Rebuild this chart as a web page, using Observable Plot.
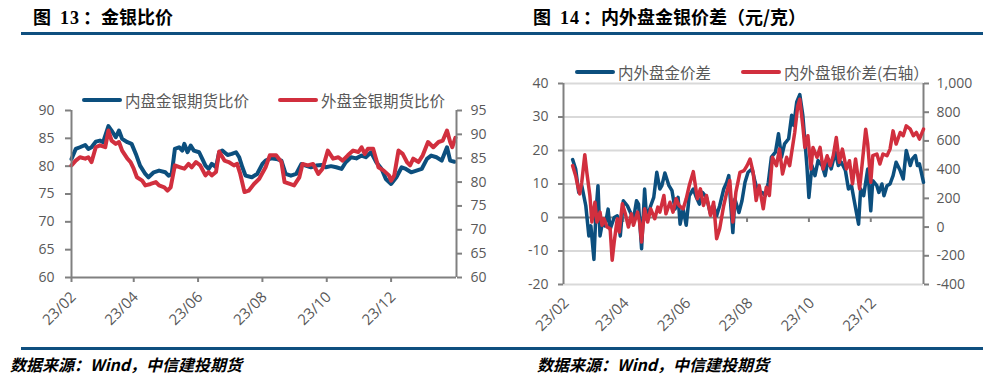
<!DOCTYPE html>
<html><head><meta charset="utf-8">
<script src="https://cdn.jsdelivr.net/npm/d3@7"></script>
<script src="https://cdn.jsdelivr.net/npm/@observablehq/plot@0.6"></script>
<style>
body{margin:0;background:#fff;}
#page{position:relative;width:998px;height:384px;overflow:hidden;font-family:"Noto Sans CJK SC",sans-serif;background:#fff;}
.abs{position:absolute;}
.title{font-weight:bold;font-size:18px;line-height:20px;color:#000;white-space:nowrap;}
.num{font-family:"Liberation Serif",serif;font-weight:bold;letter-spacing:1px;}
.rule{background:#0f4f7f;height:3px;}
.legend{font-size:15.5px;color:#595959;line-height:18px;height:18px;white-space:nowrap;display:flex;align-items:center;}
.sw{display:inline-block;width:40px;height:4px;border-radius:2px;margin-right:3px;}
.src{font-style:italic;font-weight:bold;font-size:16px;line-height:20px;color:#000;white-space:nowrap;}
</style></head>
<body><div id="page">
<div class="abs title" style="left:33px;top:6px;">图<span class="num" style="margin-left:9px;">13</span><span style="margin-left:3px;">：金银比价</span></div>
<div class="abs title" style="left:533px;top:6px;">图<span class="num" style="margin-left:9px;">14</span><span style="margin-left:3px;">：内外盘金银价差（元/克）</span></div>
<div class="abs rule" style="left:21px;top:32px;width:962px;"></div>
<div id="leftChart" class="abs" style="left:0;top:40px;"></div>
<div id="rightChart" class="abs" style="left:500px;top:40px;"></div>
<div class="abs legend" style="left:82px;top:91px;"><span class="sw" style="background:#0c4f7e"></span>内盘金银期货比价</div>
<div class="abs legend" style="left:278px;top:91px;"><span class="sw" style="background:#d12f3e"></span>外盘金银期货比价</div>
<div class="abs legend" style="left:575px;top:63px;"><span class="sw" style="background:#0c4f7e"></span>内外盘金价差</div>
<div class="abs legend" style="left:741px;top:63px;"><span class="sw" style="background:#d12f3e"></span>内外盘银价差(右轴）</div>
<div class="abs rule" style="left:21px;top:347px;width:962px;"></div>
<div class="abs src" style="left:10px;top:354px;">数据来源：Wind，中信建投期货</div>
<div class="abs src" style="left:537px;top:354px;">数据来源：Wind，中信建投期货</div>
</div>
<script>
// ---------- data ----------
const innerRatioDates = ["2023-02-01","2023-02-05","2023-02-09","2023-02-14","2023-02-17","2023-02-20","2023-02-24","2023-02-28","2023-03-03","2023-03-08","2023-03-11","2023-03-15","2023-03-18","2023-03-21","2023-03-26","2023-03-30","2023-04-03","2023-04-07","2023-04-12","2023-04-15","2023-04-20","2023-04-25","2023-05-01","2023-05-04","2023-05-07","2023-05-10","2023-05-14","2023-05-17","2023-05-19","2023-05-22","2023-05-25","2023-05-28","2023-06-02","2023-06-05","2023-06-08","2023-06-11","2023-06-14","2023-06-18","2023-06-21","2023-06-24","2023-06-29","2023-07-03","2023-07-07","2023-07-10","2023-07-13","2023-07-16","2023-07-22","2023-07-27","2023-08-01","2023-08-04","2023-08-09","2023-08-14","2023-08-19","2023-08-23","2023-08-28","2023-09-02","2023-09-07","2023-09-11","2023-09-16","2023-09-21","2023-09-26","2023-09-30","2023-10-05","2023-10-10","2023-10-15","2023-10-19","2023-10-24","2023-10-29","2023-11-03","2023-11-07","2023-11-12","2023-11-17","2023-11-22","2023-11-26","2023-12-01","2023-12-06","2023-12-11","2023-12-15","2023-12-20","2023-12-25","2023-12-30","2024-01-04","2024-01-08","2024-01-13","2024-01-18","2024-01-23","2024-01-26","2024-01-30"];
const innerRatio = [81.3,83.1,83.4,83.8,83.1,83.4,84.4,84.6,84.3,87.2,86.4,85.2,86.4,84.9,84.3,84.0,82.2,80.1,78.6,78.0,78.9,79.2,78.9,78.3,78.6,83.1,83.4,82.8,84.0,82.5,83.7,82.8,82.5,81.3,80.1,79.5,80.4,79.8,82.5,82.8,82.0,82.2,82.5,81.6,79.8,78.3,78.0,78.6,80.4,81.0,81.4,81.3,81.0,78.6,78.3,78.6,80.4,80.1,79.8,80.1,80.2,79.8,80.0,79.8,79.5,80.7,81.6,81.4,81.9,81.6,82.5,80.7,79.5,77.7,76.8,78.0,79.8,79.5,78.9,79.2,79.5,81.3,81.9,81.6,81.0,83.4,81.0,80.8];

const outerRatioDates = ["2023-02-01","2023-02-05","2023-02-09","2023-02-14","2023-02-17","2023-02-20","2023-02-24","2023-02-28","2023-03-05","2023-03-08","2023-03-11","2023-03-15","2023-03-18","2023-03-21","2023-03-26","2023-03-29","2023-04-01","2023-04-04","2023-04-09","2023-04-12","2023-04-17","2023-04-22","2023-04-25","2023-04-30","2023-05-03","2023-05-06","2023-05-10","2023-05-15","2023-05-19","2023-05-23","2023-05-26","2023-05-30","2023-06-03","2023-06-08","2023-06-11","2023-06-14","2023-06-18","2023-06-21","2023-06-26","2023-06-30","2023-07-05","2023-07-08","2023-07-11","2023-07-15","2023-07-19","2023-07-24","2023-07-29","2023-08-04","2023-08-08","2023-08-14","2023-08-19","2023-08-22","2023-08-27","2023-08-31","2023-09-05","2023-09-08","2023-09-13","2023-09-18","2023-09-23","2023-09-27","2023-10-02","2023-10-07","2023-10-12","2023-10-16","2023-10-21","2023-10-26","2023-10-31","2023-11-03","2023-11-06","2023-11-09","2023-11-14","2023-11-19","2023-11-24","2023-11-29","2023-12-01","2023-12-04","2023-12-08","2023-12-12","2023-12-16","2023-12-19","2023-12-22","2023-12-27","2023-12-31","2024-01-05","2024-01-10","2024-01-15","2024-01-19","2024-01-23","2024-01-26","2024-01-28","2024-01-31"];
const outerRatio = [83.5,84.5,85.2,84.9,85.2,84.2,87.3,87.7,87.3,90.8,88.7,88.0,88.4,86.6,84.9,84.2,82.8,81.0,80.3,79.3,79.6,80.0,79.3,78.9,78.2,78.9,83.5,83.1,82.8,83.8,83.1,84.2,83.5,81.4,82.1,81.4,82.1,86.4,84.5,84.2,83.5,83.8,81.7,77.9,78.2,79.6,80.7,83.1,85.6,85.6,84.2,80.0,79.6,79.3,81.0,83.8,83.5,83.8,81.7,82.8,86.6,84.9,85.2,84.5,85.6,86.6,86.3,87.3,85.9,87.0,87.0,83.1,82.4,81.4,80.3,81.4,86.6,85.9,84.2,83.5,84.9,84.2,85.6,88.4,87.3,88.4,88.7,90.8,88.4,87.3,89.3];

const goldSpreadDates = ["2023-02-10","2023-02-13","2023-02-16","2023-02-19","2023-02-23","2023-02-26","2023-02-28","2023-03-03","2023-03-05","2023-03-07","2023-03-09","2023-03-12","2023-03-14","2023-03-17","2023-03-19","2023-03-23","2023-03-26","2023-03-29","2023-04-01","2023-04-05","2023-04-08","2023-04-11","2023-04-14","2023-04-16","2023-04-19","2023-04-22","2023-04-24","2023-04-28","2023-05-01","2023-05-04","2023-05-07","2023-05-09","2023-05-12","2023-05-16","2023-05-19","2023-05-22","2023-05-25","2023-05-27","2023-05-30","2023-06-02","2023-06-05","2023-06-09","2023-06-12","2023-06-15","2023-06-18","2023-06-22","2023-06-26","2023-06-29","2023-07-02","2023-07-05","2023-07-09","2023-07-12","2023-07-14","2023-07-16","2023-07-18","2023-07-20","2023-07-24","2023-07-27","2023-07-30","2023-08-02","2023-08-06","2023-08-09","2023-08-12","2023-08-16","2023-08-19","2023-08-22","2023-08-25","2023-08-29","2023-09-01","2023-09-04","2023-09-07","2023-09-11","2023-09-14","2023-09-16","2023-09-19","2023-09-22","2023-09-25","2023-09-27","2023-09-29","2023-10-01","2023-10-04","2023-10-07","2023-10-10","2023-10-14","2023-10-17","2023-10-20","2023-10-23","2023-10-27","2023-10-30","2023-11-02","2023-11-06","2023-11-09","2023-11-12","2023-11-15","2023-11-19","2023-11-21","2023-11-24","2023-11-26","2023-11-28","2023-12-01","2023-12-03","2023-12-07","2023-12-09","2023-12-12","2023-12-14","2023-12-17","2023-12-20","2023-12-23","2023-12-26","2023-12-30","2024-01-02","2024-01-05","2024-01-09","2024-01-11","2024-01-14","2024-01-16","2024-01-18","2024-01-22"];
const goldSpread = [17.3,14.5,7.5,9.5,3.5,-5.5,-2.5,-12.5,1.5,9.5,-5.5,-0.5,-2.5,2.5,-3.5,0,0.5,-5.5,5,3.5,1.5,-0.5,5,4,-9.3,8.5,-0.5,3.5,6,13.5,8.5,9.5,13.3,9.5,8,2.5,6,-2,2.5,-2.3,6.5,8.5,6,4,7.5,6,1,3.5,0.5,3.5,8.5,10.5,12.5,3.5,-4.5,5.5,1.5,5,10.5,13.5,14.5,10.5,7.5,7.5,6.5,10.5,18,19.5,25,18,22,23.5,30.5,27.5,34.5,36.7,30.5,23,15.5,6,15.5,12.5,17,15.5,12.5,17.5,14.5,19.5,15.5,16.5,14,8.5,9.5,4.5,-2,8.5,6.5,10.5,14.5,2,11,9.5,7.5,10,6.5,9.5,10,12.5,16.5,14,11.5,20,15.5,17.5,18.5,15.5,16,10.5];

const silverSpreadDates = ["2023-02-10","2023-02-13","2023-02-15","2023-02-17","2023-02-19","2023-02-22","2023-02-24","2023-02-27","2023-03-01","2023-03-04","2023-03-06","2023-03-09","2023-03-11","2023-03-13","2023-03-16","2023-03-19","2023-03-21","2023-03-23","2023-03-26","2023-03-28","2023-03-31","2023-04-03","2023-04-06","2023-04-09","2023-04-11","2023-04-15","2023-04-17","2023-04-19","2023-04-22","2023-04-25","2023-04-28","2023-05-02","2023-05-05","2023-05-07","2023-05-11","2023-05-13","2023-05-17","2023-05-20","2023-05-23","2023-05-26","2023-05-30","2023-06-02","2023-06-05","2023-06-09","2023-06-13","2023-06-16","2023-06-19","2023-06-22","2023-06-26","2023-06-29","2023-07-02","2023-07-05","2023-07-09","2023-07-12","2023-07-15","2023-07-18","2023-07-21","2023-07-25","2023-07-29","2023-08-01","2023-08-04","2023-08-07","2023-08-10","2023-08-13","2023-08-17","2023-08-20","2023-08-23","2023-08-26","2023-08-30","2023-09-02","2023-09-05","2023-09-09","2023-09-12","2023-09-15","2023-09-17","2023-09-20","2023-09-22","2023-09-25","2023-09-27","2023-09-30","2023-10-03","2023-10-05","2023-10-09","2023-10-12","2023-10-15","2023-10-19","2023-10-22","2023-10-25","2023-10-28","2023-10-31","2023-11-03","2023-11-07","2023-11-10","2023-11-13","2023-11-16","2023-11-20","2023-11-23","2023-11-26","2023-11-28","2023-12-01","2023-12-03","2023-12-07","2023-12-10","2023-12-13","2023-12-17","2023-12-20","2023-12-23","2023-12-26","2023-12-30","2024-01-02","2024-01-05","2024-01-09","2024-01-12","2024-01-15","2024-01-18","2024-01-22"];
const silverSpread = [428,358,289,231,312,504,381,220,35,173,35,104,12,58,0,-12,-231,-104,58,-35,162,92,0,92,12,104,35,-104,127,35,127,58,139,104,220,92,173,104,197,150,127,197,289,386,197,266,150,220,81,173,-81,-12,150,243,324,35,243,381,393,428,474,381,185,289,127,277,220,486,428,543,370,486,428,566,659,844,890,705,555,636,405,555,486,555,405,497,428,497,624,451,543,405,462,301,474,266,474,682,578,312,497,509,439,509,497,543,670,578,659,636,705,682,636,659,613,682];

const xTickDates = ["2023-02-01","2023-04-01","2023-06-01","2023-08-01","2023-10-01","2023-12-01"];
const ratioLeftTicks = [60,65,70,75,80,85,90];
const ratioRightTicks = [60,65,70,75,80,85,90,95];
const spreadLeftTicks = [-20,-10,0,10,20,30,40];
const spreadRightTicks = [-400,-200,0,200,400,600,800,1000];

// ---------- helpers ----------
const parse = d3.utcParse("%Y-%m-%d");
const fmtTick = d3.utcFormat("%y/%m");
const xTicks = xTickDates.map(parse);
const rows = (dates, vals) => dates.map((d, i) => ({date: parse(d), value: vals[i]}));
const BLUE = "#0c4f7e", RED = "#d12f3e", AXIS = "#808080", TXT = "#595959", GRID = "#d9d9d9";
const style = {background: "transparent", fontFamily: "'Open Sans', sans-serif", fontSize: "14px", color: TXT, overflow: "visible"};

// dual-axis mappings (right-axis value -> left-axis units)
const ratioR2L = r => 60 + (r - 60) * 30 / 35;
const ratioL2R = l => 60 + (l - 60) * 35 / 30;
const spreadR2L = r => -20 + (r + 400) * 60 / 1400;
const spreadL2R = l => (l + 20) * 1400 / 60 - 400;

// ---------- left chart ----------
const leftDomain = [parse("2023-02-01"), parse("2024-02-01")];
const leftPlot = Plot.plot({
  width: 500, height: 300,
  marginTop: 70, marginBottom: 63, marginLeft: 71, marginRight: 44,
  x: {type: "utc", domain: leftDomain},
  y: {domain: [60, 90]},
  style,
  marks: [
    Plot.axisY(ratioLeftTicks, {anchor: "left", tickSize: 6, tickPadding: 11, stroke: AXIS, strokeWidth: 2, fill: TXT, fontSize: 14, label: null, tickFormat: d => String(d)}),
    Plot.axisY(ratioRightTicks.map(ratioR2L), {anchor: "right", tickSize: 5, tickPadding: 9, stroke: AXIS, strokeWidth: 2, fill: TXT, fontSize: 14, label: null, tickFormat: d => String(Math.round(ratioL2R(d)))}),
    Plot.axisX(xTicks, {anchor: "bottom", tickSize: 5, stroke: AXIS, strokeWidth: 2, fill: "none", label: null}),
    Plot.text(xTicks, {x: d => d, frameAnchor: "bottom", text: d => fmtTick(d), rotate: -45, textAnchor: "end", lineAnchor: "middle", dx: 2, dy: 17, fill: TXT, fontSize: 15}),
    Plot.line(rows(innerRatioDates, innerRatio), {x: "date", y: "value", stroke: BLUE, strokeWidth: 4}),
    Plot.line(rows(outerRatioDates, outerRatio), {x: "date", y: d => ratioR2L(d.value), stroke: RED, strokeWidth: 4}),
    Plot.ruleY([60], {stroke: AXIS, strokeWidth: 2}),
    Plot.ruleX([leftDomain[0]], {stroke: AXIS, strokeWidth: 2}),
    Plot.ruleX([leftDomain[1]], {stroke: AXIS, strokeWidth: 2})
  ]
});
document.getElementById("leftChart").append(leftPlot);

// ---------- right chart ----------
const rightDomain = [parse("2023-02-01"), parse("2024-01-22")];
const rightPlot = Plot.plot({
  width: 498, height: 300,
  marginTop: 43, marginBottom: 56, marginLeft: 63, marginRight: 75,
  x: {type: "utc", domain: rightDomain, axis: null},
  y: {domain: [-20, 40]},
  style,
  marks: [
    Plot.gridY(spreadLeftTicks.filter(d => d !== 0), {stroke: GRID, strokeOpacity: 1, strokeWidth: 2}),
    Plot.ruleY([0], {stroke: AXIS, strokeWidth: 2}),
    Plot.ruleX(xTicks.slice(1), {x: d => d, y1: 0, y2: -1.5, stroke: AXIS, strokeWidth: 2}),
    Plot.axisY(spreadLeftTicks, {anchor: "left", tickSize: 5, tickPadding: 10, stroke: AXIS, strokeWidth: 2, fill: TXT, fontSize: 14, label: null, tickFormat: d => String(d)}),
    Plot.axisY(spreadRightTicks.map(spreadR2L), {anchor: "right", tickSize: 5, tickPadding: 8, stroke: AXIS, strokeWidth: 2, fill: TXT, fontSize: 14, label: null, tickFormat: d => Math.round(spreadL2R(d)).toLocaleString("en-US")}),
    Plot.text(xTicks, {x: d => d, frameAnchor: "bottom", text: d => fmtTick(d), rotate: -45, textAnchor: "end", lineAnchor: "middle", dx: 3, dy: 16, fill: TXT, fontSize: 15}),
    Plot.ruleX([rightDomain[0]], {stroke: AXIS, strokeWidth: 2}),
    Plot.ruleX([rightDomain[1]], {stroke: AXIS, strokeWidth: 2}),
    Plot.line(rows(goldSpreadDates, goldSpread), {x: "date", y: "value", stroke: BLUE, strokeWidth: 3.5}),
    Plot.line(rows(silverSpreadDates, silverSpread), {x: "date", y: d => spreadR2L(d.value), stroke: RED, strokeWidth: 3.5})
  ]
});
document.getElementById("rightChart").append(rightPlot);
</script>
</body></html>
